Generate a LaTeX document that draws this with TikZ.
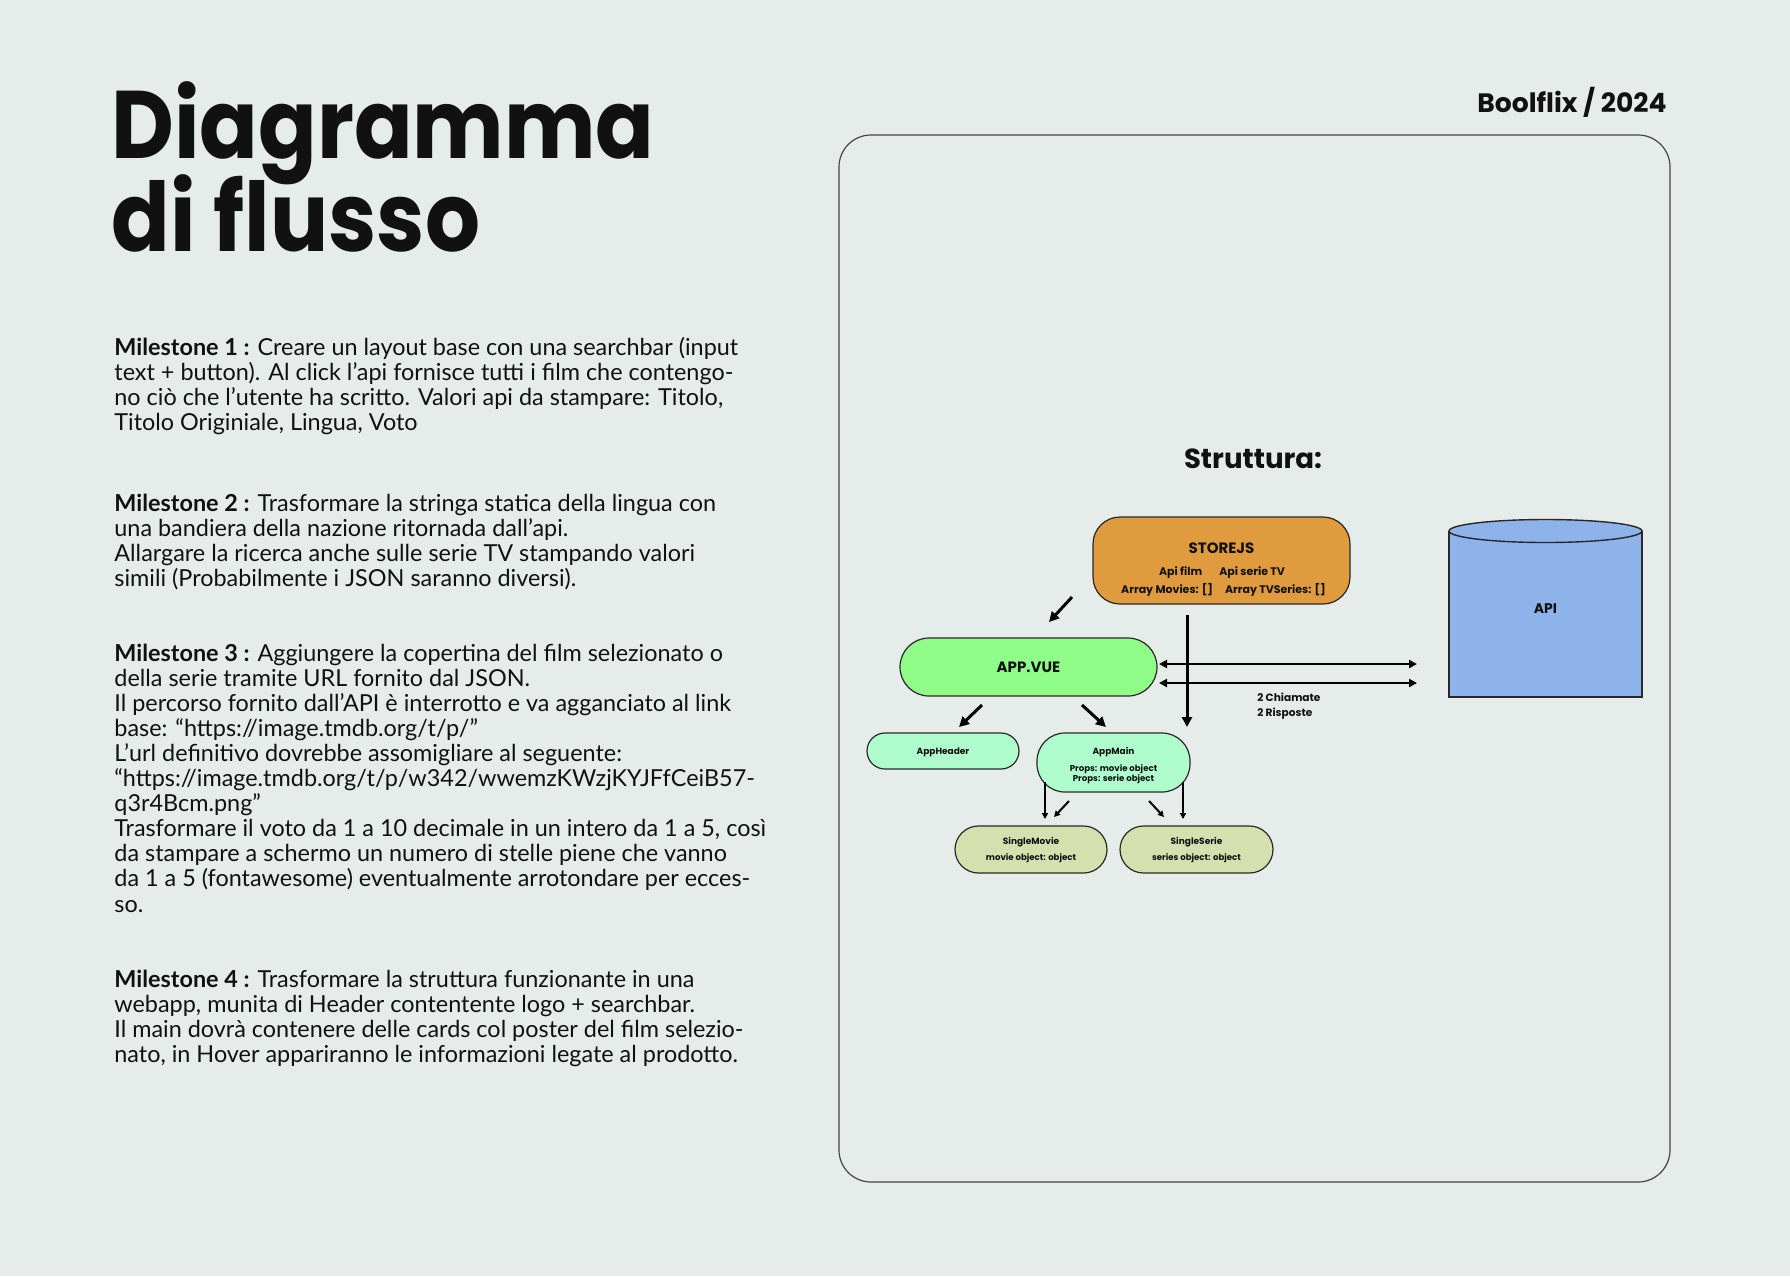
\documentclass[tikz,border=0pt]{standalone}
\usepackage{fontspec}
\setmainfont{Lato}
\newfontfamily\headfont{Poppins}
\newfontfamily\titlefont[FakeStretch=0.9]{Poppins}
\usetikzlibrary{arrows.meta}
\definecolor{bg}{RGB}{230,236,233}
\definecolor{edge}{RGB}{40,40,40}
\definecolor{framec}{RGB}{70,70,70}
\definecolor{storec}{RGB}{224,155,62}
\definecolor{appc}{RGB}{144,253,136}
\definecolor{mintc}{RGB}{175,253,204}
\definecolor{olivec}{RGB}{214,224,175}
\definecolor{apic}{RGB}{142,178,234}
\definecolor{ink}{RGB}{17,17,17}
\newcommand\pxu{0.5pt}
\begin{document}
\begin{tikzpicture}[x=0.5pt,y=-0.5pt,
  box/.style={draw=edge,line width=0.6pt,inner sep=0pt,rounded corners=#1},
  lab/.style={inner sep=0pt,anchor=base,text=ink},
  body/.style={inner sep=0pt,anchor=base west,text=ink,font=\fontsize{11.7}{13}\selectfont},
  bigarrow/.style={line width=1.5pt,-{Triangle[length=5pt,width=5pt]}},
  twoway/.style={line width=1.4pt,{Triangle[length=4pt,width=4pt]}-{Triangle[length=4pt,width=4pt]}},
  smallarrow/.style={line width=1pt,-{Triangle[length=3pt,width=3pt]}}]
\fill[bg] (0,0) rectangle (1790,1276);
\useasboundingbox (0,0) rectangle (1790,1276);

% heading
\node[inner sep=0pt,anchor=base west,text=ink,font=\titlefont\bfseries\fontsize{48}{48}\selectfont] (title1) at (111,158) {Diagramma};
\node[inner sep=0pt,anchor=base west,text=ink,font=\titlefont\bfseries\fontsize{48}{48}\selectfont] (title2) at (111,251) {di flusso};
\node[inner sep=0pt,anchor=base east,text=ink,font=\headfont\bfseries\fontsize{13.3}{13}\selectfont] (brand) at (1667,112) {Boolflix / 2024};

% milestones
\foreach \t [count=\i] in {
  {\textbf{Milestone 1 :} Creare un layout base con una searchbar (input},
  {text + button). Al click l’api fornisce tutti i film che contengo-},
  {no ciò che l’utente ha scritto. Valori api da stampare: Titolo,},
  {Titolo Originiale, Lingua, Voto}}
  \node[body] (ma-\i) at (114,{355+25.1*(\i-1)}) {\t};
\foreach \t [count=\i] in {
  {\textbf{Milestone 2 :} Trasformare la stringa statica della lingua con},
  {una bandiera della nazione ritornada dall’api.},
  {Allargare la ricerca anche sulle serie TV stampando valori},
  {simili (Probabilmente i JSON saranno diversi).}}
  \node[body] (mb-\i) at (114,{511+25.1*(\i-1)}) {\t};
\foreach \t [count=\i] in {
  {\textbf{Milestone 3 :} Aggiungere la copertina del film selezionato o},
  {della serie tramite URL fornito dal JSON.},
  {Il percorso fornito dall’API è interrotto e va agganciato al link},
  {base: “https://image.tmdb.org/t/p/”},
  {L’url definitivo dovrebbe assomigliare al seguente:},
  {“https://image.tmdb.org/t/p/w342/wwemzKWzjKYJFfCeiB57-},
  {q3r4Bcm.png”},
  {Trasformare il voto da 1 a 10 decimale in un intero da 1 a 5, così},
  {da stampare a schermo un numero di stelle piene che vanno},
  {da 1 a 5 (fontawesome) eventualmente arrotondare per ecces-},
  {so.}}
  \node[body] (mc-\i) at (114,{661+25.1*(\i-1)}) {\t};
\foreach \t [count=\i] in {
  {\textbf{Milestone 4 :} Trasformare la struttura funzionante in una},
  {webapp, munita di Header contentente logo + searchbar.},
  {Il main dovrà contenere delle cards col poster del film selezio-},
  {nato, in Hover appariranno le informazioni legate al prodotto.}}
  \node[body] (md-\i) at (114,{987+25.1*(\i-1)}) {\t};

% structure panel
\node[draw=framec,line width=0.6pt,rounded corners=16pt,inner sep=0pt,
      minimum width=831*\pxu,minimum height=1047*\pxu] (panel) at (1254.5,658.5) {};
\node[lab,font=\headfont\bfseries\fontsize{13.8}{14}\selectfont] (struct) at (1253,468) {Struttura:};

% store
\node[box=13.5pt,fill=storec,minimum width=257*\pxu,minimum height=87*\pxu] (store) at (1221.5,560.5) {};
\node[lab,font=\headfont\bfseries\fontsize{7.5}{8}\selectfont] (storet) at (1221.5,553) {STOREJS};
\node[lab,font=\headfont\bfseries\fontsize{5.5}{6}\selectfont] (storea) at (1222,575) {Api film\hspace{8.5pt}Api serie TV};
\node[lab,font=\headfont\bfseries\fontsize{5.5}{6}\selectfont] (storeb) at (1223.5,593) {Array Movies: []\hspace{6pt}Array TVSeries: []};

% api cylinder
\draw[edge,line width=0.7pt,fill=apic] (1449,531) -- (1449,697) -- (1642,697) -- (1642,531);
\draw[edge,line width=0.7pt,fill=apic] (1545.5,531) ellipse [x radius=48.25pt,y radius=5.75pt];
\node[lab,font=\headfont\bfseries\fontsize{7}{8}\selectfont] (api) at (1545.5,613) {API};

% components
\node[box=14.5pt,fill=appc,minimum width=257*\pxu,minimum height=58*\pxu] (app) at (1028.5,667) {};
\node[lab,font=\headfont\bfseries\fontsize{7.5}{8}\selectfont] (appt) at (1028.5,672.5) {APP.VUE};

\node[box=9pt,fill=mintc,minimum width=152*\pxu,minimum height=36*\pxu] (header) at (943,751) {};
\node[lab,font=\headfont\bfseries\fontsize{4.5}{5}\selectfont] (headert) at (943,754) {AppHeader};

\node[box=14pt,fill=mintc,minimum width=153*\pxu,minimum height=59*\pxu] (main) at (1113.5,762.5) {};
\node[lab,font=\headfont\bfseries\fontsize{4.5}{5}\selectfont] (maint) at (1113.5,754) {AppMain};
\node[lab,font=\headfont\bfseries\fontsize{4.3}{5}\selectfont] (mainp) at (1113.5,771) {Props: movie object};
\node[lab,font=\headfont\bfseries\fontsize{4.3}{5}\selectfont] (mainq) at (1113.5,781) {Props: serie object};

\node[box=11.75pt,fill=olivec,minimum width=152*\pxu,minimum height=47*\pxu] (movie) at (1031,849.5) {};
\node[lab,font=\headfont\bfseries\fontsize{4.5}{5}\selectfont] (moviet) at (1031,844) {SingleMovie};
\node[lab,font=\headfont\bfseries\fontsize{4.3}{5}\selectfont] (moviep) at (1031,860) {movie object: object};

\node[box=11.75pt,fill=olivec,minimum width=153*\pxu,minimum height=47*\pxu] (serie) at (1196.5,849.5) {};
\node[lab,font=\headfont\bfseries\fontsize{4.5}{5}\selectfont] (seriet) at (1196.5,844) {SingleSerie};
\node[lab,font=\headfont\bfseries\fontsize{4.3}{5}\selectfont] (seriep) at (1196.5,860) {series object: object};

% call labels
\node[inner sep=0pt,anchor=base west,text=ink,font=\headfont\bfseries\fontsize{5.3}{6}\selectfont] (calls) at (1257,701.5) {2 Chiamate};
\node[inner sep=0pt,anchor=base west,text=ink,font=\headfont\bfseries\fontsize{5.3}{6}\selectfont] (answers) at (1257,716.5) {2 Risposte};

% connector end points
\coordinate (sa) at (1072,597);  \coordinate (ea) at (1049,622);
\coordinate (sv) at (1187,615);  \coordinate (ev) at (1187,727);
\coordinate (h1a) at (1159,664); \coordinate (h1b) at (1417,664);
\coordinate (h2a) at (1159,683); \coordinate (h2b) at (1417,683);
\coordinate (sh) at (982,705);   \coordinate (eh) at (959,727);
\coordinate (sm) at (1082,705);  \coordinate (em) at (1106,727);
\coordinate (l1a) at (1045,782); \coordinate (l1b) at (1045,819);
\coordinate (l2a) at (1069,801); \coordinate (l2b) at (1054,817);
\coordinate (r2a) at (1149,801); \coordinate (r2b) at (1164,817);
\coordinate (r1a) at (1183,782); \coordinate (r1b) at (1183,819);

% connectors
\draw[bigarrow] (sa) -- (ea);
\draw[bigarrow] (sv) -- (ev);
\draw[twoway] (h1a) -- (h1b);
\draw[twoway] (h2a) -- (h2b);
\draw[bigarrow] (sh) -- (eh);
\draw[bigarrow] (sm) -- (em);
\draw[smallarrow] (l1a) -- (l1b);
\draw[smallarrow] (l2a) -- (l2b);
\draw[smallarrow] (r2a) -- (r2b);
\draw[smallarrow] (r1a) -- (r1b);
\end{tikzpicture}
\end{document}
